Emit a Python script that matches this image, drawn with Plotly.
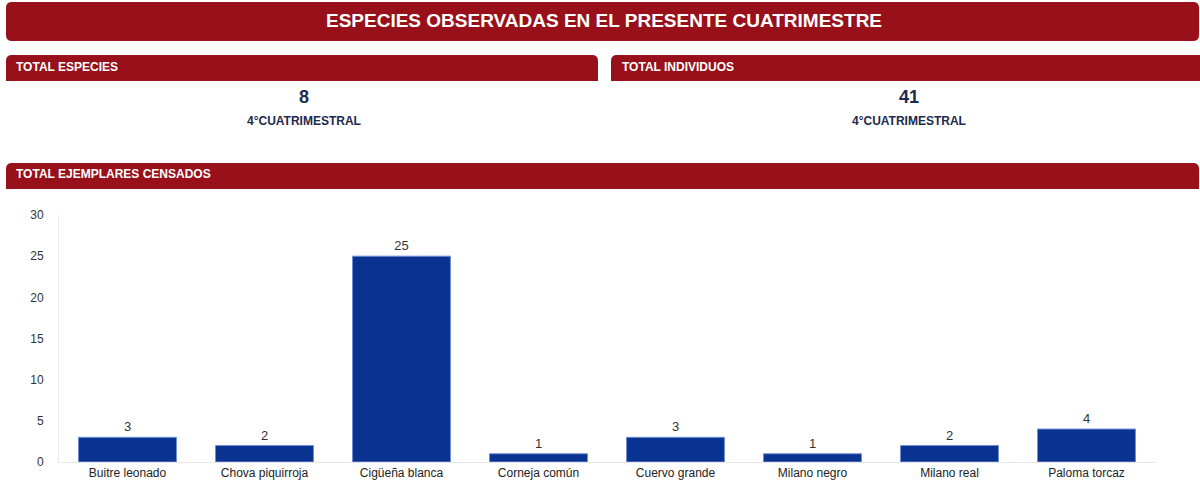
import plotly.graph_objects as go

# ---- data ----
categories = ["Buitre leonado", "Chova piquirroja", "Cigüeña blanca", "Corneja común",
              "Cuervo grande", "Milano negro", "Milano real", "Paloma torcaz"]
values = [3, 2, 25, 1, 3, 1, 2, 4]
y_ticks = [0, 5, 10, 15, 20, 25, 30]

main_title = "ESPECIES OBSERVADAS EN EL PRESENTE CUATRIMESTRE"
kpi_titles = ["TOTAL ESPECIES", "TOTAL INDIVIDUOS"]
kpi_values = ["8", "41"]
kpi_sub = "4°CUATRIMESTRAL"
section_title = "TOTAL EJEMPLARES CENSADOS"

# ---- layout geometry (pixels) ----
W, H = 1200, 486
L, R, T, B = 59, 45, 215, 24
PW, PH = W - L - R, H - T - B
RED = "#98111A"
NAVY = "#1c2b4d"
FONT = "Liberation Sans, Arial, sans-serif"


def px(x):
    return (x - L) / PW


def py(y):
    return (H - B - y) / PH


def rounded_path(x0, y0, x1, y1, r, tl=True, tr=True, br=True, bl=True):
    # pixel coords, y downward -> paper coords
    def P(x, y):
        return f"{px(x):.6f},{py(y):.6f}"
    d = []
    d.append("M" + P(x0 + (r if tl else 0), y0))
    d.append("L" + P(x1 - (r if tr else 0), y0))
    if tr:
        d.append("Q" + P(x1, y0) + " " + P(x1, y0 + r))
    d.append("L" + P(x1, y1 - (r if br else 0)))
    if br:
        d.append("Q" + P(x1, y1) + " " + P(x1 - r, y1))
    d.append("L" + P(x0 + (r if bl else 0), y1))
    if bl:
        d.append("Q" + P(x0, y1) + " " + P(x0, y1 - r))
    d.append("L" + P(x0, y0 + (r if tl else 0)))
    if tl:
        d.append("Q" + P(x0, y0) + " " + P(x0 + r, y0))
    d.append("Z")
    return " ".join(d)


fig = go.Figure()
fig.add_trace(go.Bar(
    x=categories, y=values,
    marker=dict(color="#0A3290", line=dict(color="#6f8fd6", width=1)),
    text=[str(v) for v in values], textposition="outside",
    textfont=dict(size=13, color="#333333", family=FONT),
    cliponaxis=False, hoverinfo="x+y",
))

shapes = [
    dict(type="path", xref="paper", yref="paper", layer="below",
         path=rounded_path(6, 2, 1199, 41, 6), fillcolor=RED, line=dict(width=0)),
    dict(type="path", xref="paper", yref="paper", layer="below",
         path=rounded_path(6, 55, 598, 81, 6, tl=True, tr=True, br=False, bl=False),
         fillcolor=RED, line=dict(width=0)),
    dict(type="path", xref="paper", yref="paper", layer="below",
         path=rounded_path(611, 55, 1200, 81, 6, tl=True, tr=False, br=False, bl=False),
         fillcolor=RED, line=dict(width=0)),
    dict(type="path", xref="paper", yref="paper", layer="below",
         path=rounded_path(6, 163, 1199, 189, 6, tl=True, tr=True, br=False, bl=False),
         fillcolor=RED, line=dict(width=0)),
]

annotations = [
    dict(text=f"<b>{main_title}</b>", x=px(604), y=py(21), xref="paper", yref="paper",
         showarrow=False, xanchor="center", yanchor="middle",
         font=dict(size=19, color="white", family=FONT)),
    dict(text=f"<b>{kpi_titles[0]}</b>", x=px(14), y=py(67), xref="paper", yref="paper",
         showarrow=False, xanchor="left", yanchor="middle",
         font=dict(size=12, color="white", family=FONT)),
    dict(text=f"<b>{kpi_titles[1]}</b>", x=px(620), y=py(67), xref="paper", yref="paper",
         showarrow=False, xanchor="left", yanchor="middle",
         font=dict(size=12, color="white", family=FONT)),
    dict(text=f"<b>{section_title}</b>", x=px(14), y=py(174), xref="paper", yref="paper",
         showarrow=False, xanchor="left", yanchor="middle",
         font=dict(size=12, color="white", family=FONT)),
]
for cx, val in zip([304, 909], kpi_values):
    annotations.append(dict(text=f"<b>{val}</b>", x=px(cx), y=py(97), xref="paper", yref="paper",
                            showarrow=False, xanchor="center", yanchor="middle",
                            font=dict(size=18, color=NAVY, family=FONT)))
    annotations.append(dict(text=f"<b>{kpi_sub}</b>", x=px(cx), y=py(121), xref="paper", yref="paper",
                            showarrow=False, xanchor="center", yanchor="middle",
                            font=dict(size=12, color=NAVY, family=FONT)))

fig.update_layout(
    width=W, height=H,
    margin=dict(l=L, r=R, t=T, b=B, autoexpand=False),
    paper_bgcolor="white", plot_bgcolor="white",
    showlegend=False, bargap=0.285,
    shapes=shapes, annotations=annotations,
    font=dict(family=FONT, color="#333333"),
    xaxis=dict(showgrid=False, showline=True, linecolor="#e6e6e6", linewidth=1,
               ticks="", tickfont=dict(size=12, color="#222222"), fixedrange=True),
    yaxis=dict(range=[0, 30], tickvals=y_ticks, showgrid=False, zeroline=False,
               showline=True, linecolor="#ececec", linewidth=1, ticks="",
               ticklabelstandoff=12,
               tickfont=dict(size=12, color="#333333"), fixedrange=True),
)

fig.write_html("out.html", config={"displayModeBar": False},
               post_script="document.body.style.margin='0';document.body.style.overflow='hidden';")
